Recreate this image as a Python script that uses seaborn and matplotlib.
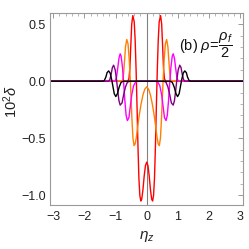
#!/usr/bin/env python3
import numpy as np
import pandas as pd
import seaborn as sns
import matplotlib
matplotlib.use("Agg")
import matplotlib.pyplot as plt
from matplotlib.ticker import MultipleLocator

# curves (eta_z, 10^2 delta)
red_x = [-3.1, -0.61, -0.57, -0.54, -0.51, -0.48, -0.445, -0.40, -0.37, -0.34, -0.31, -0.28,
         -0.25, -0.22, -0.19, -0.16, -0.12, -0.08, -0.04, 0.0, 0.04, 0.08, 0.12, 0.16, 0.19,
         0.22, 0.25, 0.28, 0.31, 0.34, 0.37, 0.40, 0.445, 0.48, 0.51, 0.54, 0.57, 0.61, 3.1]
red_y = [0.0, 0.0, 0.02, 0.11, 0.31, 0.50, 0.575, 0.52, 0.36, 0.10, -0.22, -0.57,
         -0.85, -1.00, -1.05, -1.035, -0.95, -0.83, -0.74, -0.71, -0.74, -0.83, -0.95, -1.035, -1.05,
         -1.00, -0.85, -0.57, -0.22, 0.10, 0.36, 0.52, 0.575, 0.50, 0.31, 0.11, 0.02, 0.0, 0.0]

orange_x = [-3.1, -0.81, -0.77, -0.74, -0.71, -0.68, -0.64, -0.60, -0.56, -0.53, -0.50, -0.47,
            -0.44, -0.405, -0.37, -0.33, -0.29, -0.24, -0.18, -0.12, -0.06, 0.0, 0.06, 0.12,
            0.18, 0.24, 0.29, 0.33, 0.37, 0.405, 0.44, 0.47, 0.50, 0.53, 0.56, 0.60, 0.64,
            0.68, 0.71, 0.74, 0.77, 0.81, 3.1]
orange_y = [0.0, 0.0, 0.01, 0.07, 0.18, 0.30, 0.365, 0.33, 0.19, 0.03, -0.16, -0.35,
            -0.50, -0.565, -0.55, -0.49, -0.40, -0.30, -0.20, -0.12, -0.07, -0.05, -0.07, -0.12,
            -0.20, -0.30, -0.40, -0.49, -0.55, -0.565, -0.50, -0.35, -0.16, 0.03, 0.19, 0.33, 0.365,
            0.30, 0.18, 0.07, 0.01, 0.0, 0.0]

magenta_x = [-3.1, -1.01, -0.97, -0.93, -0.89, -0.85, -0.82, -0.78, -0.74, -0.70, -0.66, -0.62,
             -0.57, -0.53, -0.48, -0.42, -0.36, -0.28, 0.0, 0.28, 0.36, 0.42, 0.48, 0.53, 0.57,
             0.62, 0.66, 0.70, 0.74, 0.78, 0.82, 0.85, 0.89, 0.93, 0.97, 1.01, 3.1]
magenta_y = [0.0, 0.0, 0.03, 0.11, 0.20, 0.24, 0.22, 0.13, -0.01, -0.17, -0.30, -0.345,
             -0.32, -0.23, -0.12, -0.04, -0.01, 0.0, 0.0, 0.0, -0.01, -0.04, -0.12, -0.23, -0.32,
             -0.345, -0.30, -0.17, -0.01, 0.13, 0.22, 0.24, 0.20, 0.11, 0.03, 0.0, 0.0]

purple_x = [-3.1, -1.22, -1.18, -1.14, -1.10, -1.06, -1.01, -0.97, -0.93, -0.89, -0.85, -0.79,
            -0.74, -0.68, -0.62, -0.55, 0.0, 0.55, 0.62, 0.68, 0.74, 0.79, 0.85, 0.89, 0.93,
            0.97, 1.01, 1.06, 1.10, 1.14, 1.18, 1.22, 3.1]
purple_y = [0.0, 0.0, 0.015, 0.06, 0.12, 0.14, 0.10, 0.02, -0.08, -0.17, -0.21, -0.19,
            -0.12, -0.05, -0.01, 0.0, 0.0, 0.0, -0.01, -0.05, -0.12, -0.19, -0.21, -0.17, -0.08,
            0.02, 0.10, 0.14, 0.12, 0.06, 0.015, 0.0, 0.0]

black_x = [-3.1, -1.41, -1.36, -1.31, -1.27, -1.22, -1.17, -1.12, -1.08, -1.04, -0.99, -0.94,
           -0.88, -0.82, -0.75, 0.0, 0.75, 0.82, 0.88, 0.94, 0.99, 1.04, 1.08, 1.12, 1.17,
           1.22, 1.27, 1.31, 1.36, 1.41, 3.1]
black_y = [0.0, 0.0, 0.005, 0.035, 0.075, 0.09, 0.07, 0.01, -0.05, -0.11, -0.135, -0.11,
           -0.05, -0.01, 0.0, 0.0, 0.0, -0.01, -0.05, -0.11, -0.135, -0.11, -0.05, 0.01, 0.07,
           0.09, 0.075, 0.035, 0.005, 0.0, 0.0]

curves = [("red", red_x, red_y, "#ff0000"),
          ("orange", orange_x, orange_y, "#ff8000"),
          ("magenta", magenta_x, magenta_y, "#ff00ff"),
          ("purple", purple_x, purple_y, "#800080"),
          ("black", black_x, black_y, "#000000")]

sns.set_style("white")
plt.rcParams['font.family'] = ['Liberation Sans', 'DejaVu Sans']
plt.rcParams['mathtext.fontset'] = 'custom'
plt.rcParams['mathtext.rm'] = 'Liberation Sans'
plt.rcParams['mathtext.it'] = 'Liberation Sans:italic'

fig = plt.figure(figsize=(2.49, 2.49), dpi=100)
ax = fig.add_axes([0.2008, 0.1767, 0.7767, 0.7723])

ax.axvline(0, color="#808080", lw=0.8, zorder=1)
for name, xs, ys, col in curves:
    df = pd.DataFrame({"x": xs, "y": ys})
    sns.lineplot(data=df, x="x", y="y", color=col, lw=1.0, ax=ax, sort=False,
                 estimator=None, zorder=2)

ax.set_xlim(-3.1, 3.1)
ax.set_ylim(-1.085, 0.6)
ax.xaxis.set_major_locator(MultipleLocator(1))
ax.xaxis.set_minor_locator(MultipleLocator(0.2))
ax.yaxis.set_major_locator(MultipleLocator(0.5))
ax.yaxis.set_minor_locator(MultipleLocator(0.1))
ax.xaxis.set_major_formatter(matplotlib.ticker.FuncFormatter(
    lambda v, p: f"{int(round(v))}".replace("-", "\u2212")))
ax.yaxis.set_major_formatter(matplotlib.ticker.FuncFormatter(
    lambda v, p: f"{v:.1f}".replace("-", "\u2212")))

for s in ax.spines.values():
    s.set_color("#9a9a9a")
    s.set_linewidth(0.8)
ax.tick_params(which="both", direction="in", top=True, right=True, color="#9a9a9a",
               labelsize=9, labelcolor="#222222")
ax.tick_params(which="major", length=3.5, width=0.7, pad=3)
ax.tick_params(axis="x", which="major", pad=4.5)
ax.tick_params(which="minor", length=2, width=0.5)

ax.set_xlabel(r"$\eta_z$", fontsize=11, color="#222222")
ax.set_ylabel(r"$10^2\delta$", fontsize=10.5, color="#222222")
ax.xaxis.set_label_coords(0.5, -0.125)
ax.yaxis.set_label_coords(-0.155, 0.54)

ax.text(0.946, 0.832, r"(b) $\rho\!=\!\dfrac{\rho_f}{2}$", transform=ax.transAxes,
        ha="right", va="center", fontsize=10.5, color="#111111")

fig.savefig("out.png", dpi=100)
